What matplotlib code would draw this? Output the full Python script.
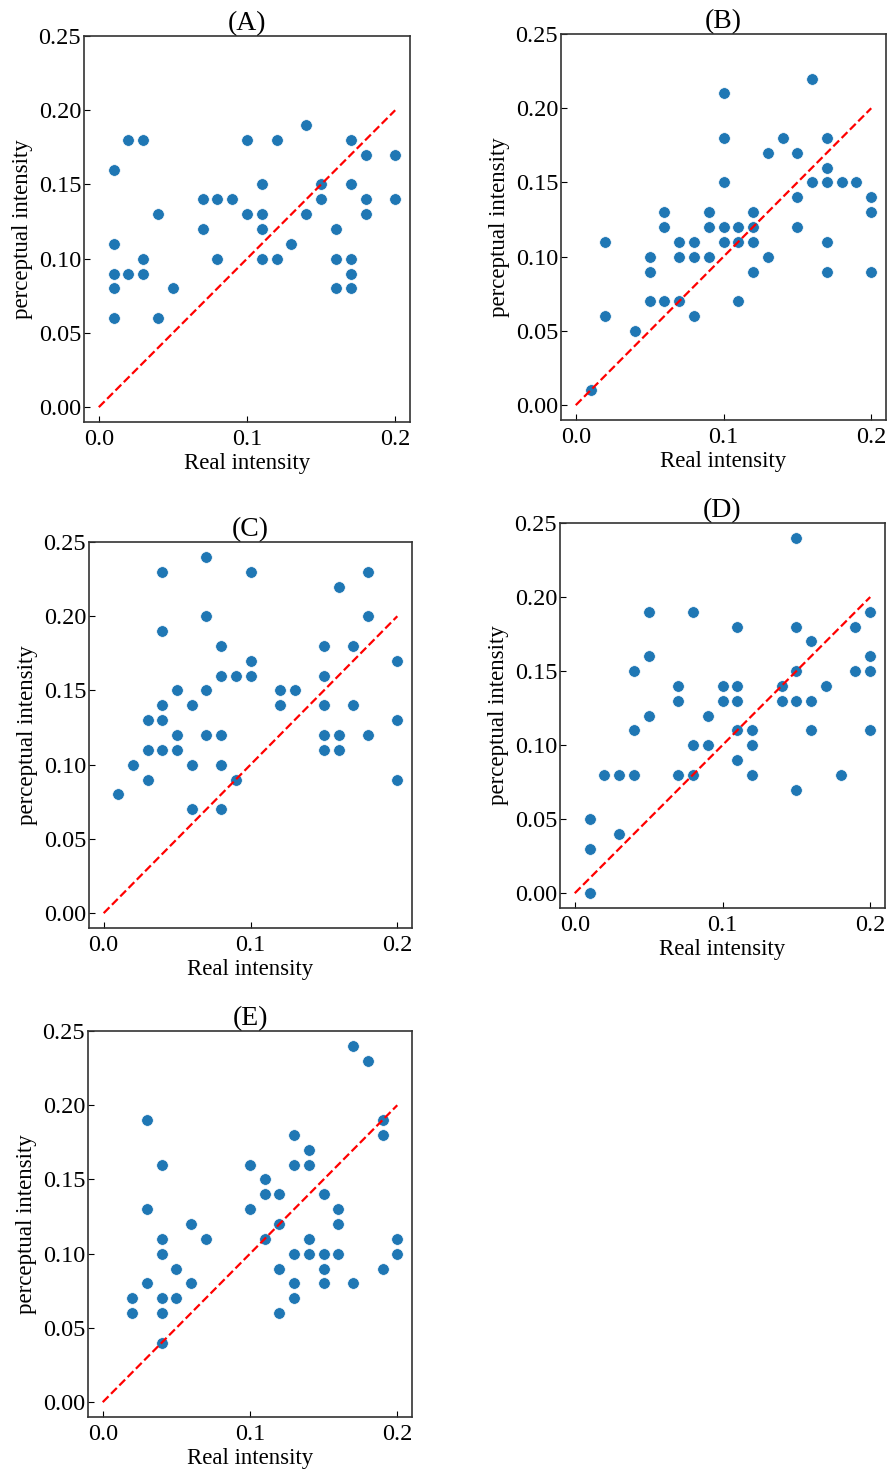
import matplotlib
matplotlib.use('Agg')
import matplotlib.pyplot as plt

plt.rcParams['font.family'] = ['Liberation Serif', 'DejaVu Serif']
plt.rcParams['font.size'] = 17

# (A)
a_x = [0.01, 0.01, 0.01, 0.01, 0.01, 0.02, 0.02, 0.03, 0.03, 0.03, 0.04, 0.04, 0.05,
       0.07, 0.07, 0.08, 0.08, 0.09, 0.10, 0.10, 0.11, 0.11, 0.11, 0.11, 0.12, 0.12,
       0.13, 0.14, 0.14, 0.15, 0.15, 0.16, 0.16, 0.16, 0.17, 0.17, 0.17, 0.17, 0.17,
       0.18, 0.18, 0.18, 0.20, 0.20]
a_y = [0.16, 0.11, 0.09, 0.08, 0.06, 0.18, 0.09, 0.18, 0.10, 0.09, 0.13, 0.06, 0.08,
       0.14, 0.12, 0.14, 0.10, 0.14, 0.18, 0.13, 0.15, 0.13, 0.12, 0.10, 0.18, 0.10,
       0.11, 0.19, 0.13, 0.15, 0.14, 0.12, 0.10, 0.08, 0.18, 0.15, 0.10, 0.09, 0.08,
       0.17, 0.14, 0.13, 0.17, 0.14]

# (B)
b_x = [0.01, 0.02, 0.02, 0.04, 0.05, 0.05, 0.05, 0.06, 0.06, 0.06, 0.07, 0.07, 0.07,
       0.08, 0.08, 0.08, 0.09, 0.09, 0.09, 0.10, 0.10, 0.10, 0.10, 0.10, 0.11, 0.11,
       0.11, 0.12, 0.12, 0.12, 0.12, 0.13, 0.13, 0.14, 0.15, 0.15, 0.15, 0.16, 0.16,
       0.17, 0.17, 0.17, 0.17, 0.17, 0.18, 0.19, 0.20, 0.20, 0.20]
b_y = [0.01, 0.11, 0.06, 0.05, 0.10, 0.09, 0.07, 0.13, 0.12, 0.07, 0.11, 0.10, 0.07,
       0.11, 0.10, 0.06, 0.13, 0.12, 0.10, 0.21, 0.18, 0.15, 0.12, 0.11, 0.12, 0.11,
       0.07, 0.13, 0.12, 0.11, 0.09, 0.17, 0.10, 0.18, 0.17, 0.14, 0.12, 0.22, 0.15,
       0.18, 0.16, 0.15, 0.11, 0.09, 0.15, 0.15, 0.14, 0.13, 0.09]

# (C)
c_x = [0.01, 0.02, 0.03, 0.03, 0.03, 0.04, 0.04, 0.04, 0.04, 0.04, 0.05, 0.05, 0.05,
       0.06, 0.06, 0.06, 0.07, 0.07, 0.07, 0.07, 0.08, 0.08, 0.08, 0.08, 0.08, 0.09,
       0.09, 0.10, 0.10, 0.10, 0.12, 0.12, 0.13, 0.15, 0.15, 0.15, 0.15, 0.15, 0.16,
       0.16, 0.16, 0.17, 0.17, 0.18, 0.18, 0.18, 0.20, 0.20, 0.20]
c_y = [0.08, 0.10, 0.13, 0.11, 0.09, 0.23, 0.19, 0.14, 0.13, 0.11, 0.15, 0.12, 0.11,
       0.14, 0.10, 0.07, 0.24, 0.20, 0.15, 0.12, 0.18, 0.16, 0.12, 0.10, 0.07, 0.16,
       0.09, 0.23, 0.17, 0.16, 0.15, 0.14, 0.15, 0.18, 0.16, 0.14, 0.12, 0.11, 0.22,
       0.12, 0.11, 0.18, 0.14, 0.23, 0.20, 0.12, 0.17, 0.13, 0.09]

# (D)
d_x = [0.01, 0.01, 0.01, 0.02, 0.03, 0.03, 0.04, 0.04, 0.04, 0.05, 0.05, 0.05, 0.07,
       0.07, 0.07, 0.08, 0.08, 0.08, 0.09, 0.09, 0.10, 0.10, 0.11, 0.11, 0.11, 0.11,
       0.11, 0.12, 0.12, 0.12, 0.14, 0.14, 0.15, 0.15, 0.15, 0.15, 0.15, 0.16, 0.16,
       0.16, 0.17, 0.18, 0.19, 0.19, 0.20, 0.20, 0.20, 0.20]
d_y = [0.05, 0.03, 0.00, 0.08, 0.08, 0.04, 0.15, 0.11, 0.08, 0.19, 0.16, 0.12, 0.14,
       0.13, 0.08, 0.19, 0.10, 0.08, 0.12, 0.10, 0.14, 0.13, 0.18, 0.14, 0.13, 0.11,
       0.09, 0.11, 0.10, 0.08, 0.14, 0.13, 0.24, 0.18, 0.15, 0.13, 0.07, 0.17, 0.13,
       0.11, 0.14, 0.08, 0.18, 0.15, 0.19, 0.16, 0.15, 0.11]

# (E)
e_x = [0.02, 0.02, 0.03, 0.03, 0.03, 0.04, 0.04, 0.04, 0.04, 0.04, 0.04, 0.05, 0.05,
       0.06, 0.06, 0.07, 0.10, 0.10, 0.11, 0.11, 0.11, 0.12, 0.12, 0.12, 0.12, 0.13,
       0.13, 0.13, 0.13, 0.13, 0.14, 0.14, 0.14, 0.14, 0.15, 0.15, 0.15, 0.15, 0.16,
       0.16, 0.16, 0.17, 0.17, 0.18, 0.19, 0.19, 0.19, 0.20, 0.20]
e_y = [0.07, 0.06, 0.19, 0.13, 0.08, 0.16, 0.11, 0.10, 0.07, 0.06, 0.04, 0.09, 0.07,
       0.12, 0.08, 0.11, 0.16, 0.13, 0.15, 0.14, 0.11, 0.14, 0.12, 0.09, 0.06, 0.18,
       0.16, 0.10, 0.08, 0.07, 0.17, 0.16, 0.11, 0.10, 0.14, 0.10, 0.09, 0.08, 0.13,
       0.12, 0.10, 0.24, 0.08, 0.23, 0.19, 0.18, 0.09, 0.11, 0.10]

titles = ['(A)', '(B)', '(C)', '(D)', '(E)']
xs = [a_x, b_x, c_x, d_x, e_x]
ys = [a_y, b_y, c_y, d_y, e_y]

W, H = 890, 1469
# axes boxes in pixels: left, top, right, bottom
boxes = [(84, 36, 410, 422),
         (561, 34, 886, 420),
         (89, 542, 412, 928),
         (560, 523, 885, 908),
         (88, 1031, 412, 1417)]

fig = plt.figure(figsize=(W / 100, H / 100), dpi=100)

for title, x, y, (l, t, r, b) in zip(titles, xs, ys, boxes):
    ax = fig.add_axes([l / W, 1 - b / H, (r - l) / W, (b - t) / H])
    ax.scatter(x, y, s=70, color='#1f77b4', edgecolor='white', linewidth=0.5, zorder=2)
    ax.plot([0, 0.2], [0, 0.2], 'r--', linewidth=1.6, zorder=3)
    ax.set_xlim(-0.01, 0.21)
    ax.set_ylim(-0.01, 0.25)
    ax.set_xticks([0.0, 0.1, 0.2])
    ax.set_xticklabels(['0.0', '0.1', '0.2'])
    ax.set_yticks([0.0, 0.05, 0.10, 0.15, 0.20, 0.25])
    ax.set_yticklabels(['0.00', '0.05', '0.10', '0.15', '0.20', '0.25'])
    ax.tick_params(direction='in', length=4, labelsize=17.5)
    ax.tick_params(axis='x', pad=5)
    ax.tick_params(axis='y', pad=2)
    for sp in ax.spines.values():
        sp.set_linewidth(1.2)
        sp.set_color('#333333')
    ax.set_title(title, fontsize=20, pad=2)
    ax.set_xlabel('Real intensity', fontsize=16.5, labelpad=2)
    ax.set_ylabel('perceptual intensity', fontsize=16.5, labelpad=4)

fig.savefig('out.png', dpi=100)
